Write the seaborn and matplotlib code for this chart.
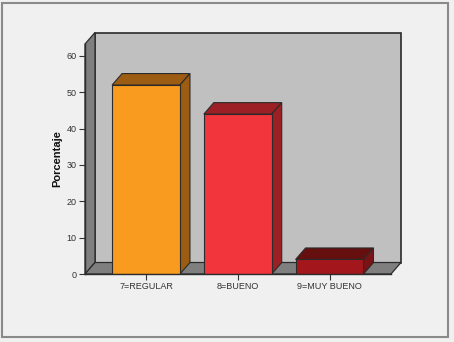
import matplotlib
matplotlib.use("Agg")
import matplotlib.pyplot as plt
import matplotlib.transforms as mtransforms
from matplotlib.patches import Polygon, Rectangle
import seaborn as sns
import pandas as pd

categories = ["7=REGULAR", "8=BUENO", "9=MUY BUENO"]
values = [52.0, 44.0, 4.0]
front_colors = ["#f99b1f", "#f2343c", "#a3171c"]
top_colors = ["#9c5c12", "#9b1f24", "#65100f"]
side_colors = ["#9c5c12", "#9b1f24", "#7a1216"]
y_ticks = [0, 10, 20, 30, 40, 50, 60]

sns.set_theme(style="white")
plt.rcParams["font.family"] = ["Liberation Sans", "DejaVu Sans"]

W, H, DPI = 454, 342, 100
fig = plt.figure(figsize=(W / DPI, H / DPI), dpi=DPI, facecolor="#f0f0f0")
ax = fig.add_axes([85 / W, (H - 274) / H, 306 / W, 230 / H])
ax.set_facecolor("none")

df = pd.DataFrame({"cat": categories, "pct": values})
sns.barplot(data=df, x="cat", y="pct", hue="cat", palette=front_colors,
            width=0.74, edgecolor="#2b2b2b", linewidth=0.8, legend=False,
            saturation=1, ax=ax)

ax.set_xlim(-0.665, 2.67)
ax.set_ylim(0, 63.3)
ax.set_yticks(y_ticks)
ax.set_yticklabels([str(t) for t in y_ticks], fontsize=6.5, color="#333333")
ax.set_xticks(range(len(categories)))
ax.set_xticklabels(categories, fontsize=6.5, color="#333333")
ax.tick_params(axis="both", which="both", direction="out", length=4,
               width=0.8, color="#333333", pad=2, left=True, bottom=True)
ax.set_xlabel("")
ax.set_ylabel("Porcentaje", fontsize=8, fontweight="bold", color="#111111", labelpad=3)
for s in ["top", "right"]:
    ax.spines[s].set_visible(False)
for s in ["left", "bottom"]:
    ax.spines[s].set_color("#2b2b2b")
    ax.spines[s].set_linewidth(1.0)
    ax.spines[s].set_zorder(5)

# depth offset of the 3D box, in pixels
DX, DY = 10, 11.5
ident = mtransforms.IdentityTransform()
fig.canvas.draw()

(ax0, ay0), (ax1, ay1) = ax.transAxes.transform([(0, 0), (1, 1)])

def poly(pts, fc, z, ec="#2b2b2b", lw=0.9):
    p = Polygon(pts, closed=True, facecolor=fc, edgecolor=ec, linewidth=lw,
                transform=ident, clip_on=False, zorder=z)
    ax.add_artist(p)

# back wall
poly([(ax0 + DX, ay0 + DY), (ax1 + DX, ay0 + DY), (ax1 + DX, ay1 + DY), (ax0 + DX, ay1 + DY)],
     "#c0c0c0", 0.1, lw=1.2)
# left wall
poly([(ax0, ay0), (ax0 + DX, ay0 + DY), (ax0 + DX, ay1 + DY), (ax0, ay1)], "#7f7f7f", 0.2)
# floor
poly([(ax0, ay0), (ax0 + DX, ay0 + DY), (ax1 + DX, ay0 + DY), (ax1, ay0)], "#7f7f7f", 0.2)

# extrude each bar
for i, bar in enumerate(ax.patches[:len(values)]):
    bar.set_zorder(3)
    x0 = bar.get_x()
    x1 = x0 + bar.get_width()
    h = bar.get_height()
    (px0, py0), (px1, py1) = ax.transData.transform([(x0, 0), (x1, h)])
    poly([(px0, py1), (px1, py1), (px1 + DX, py1 + DY), (px0 + DX, py1 + DY)],
         top_colors[i], 2, lw=0.8)
    poly([(px1, py0), (px1, py1), (px1 + DX, py1 + DY), (px1 + DX, py0 + DY)],
         side_colors[i], 2, lw=0.8)

# outer frame
fig.patches.append(Rectangle((1.5 / W, 5 / H), 446.5 / W, 334 / H, transform=fig.transFigure,
                             facecolor="none", edgecolor="#8a8a8a", linewidth=1.5))

fig.savefig("out.png", dpi=DPI, facecolor=fig.get_facecolor())
